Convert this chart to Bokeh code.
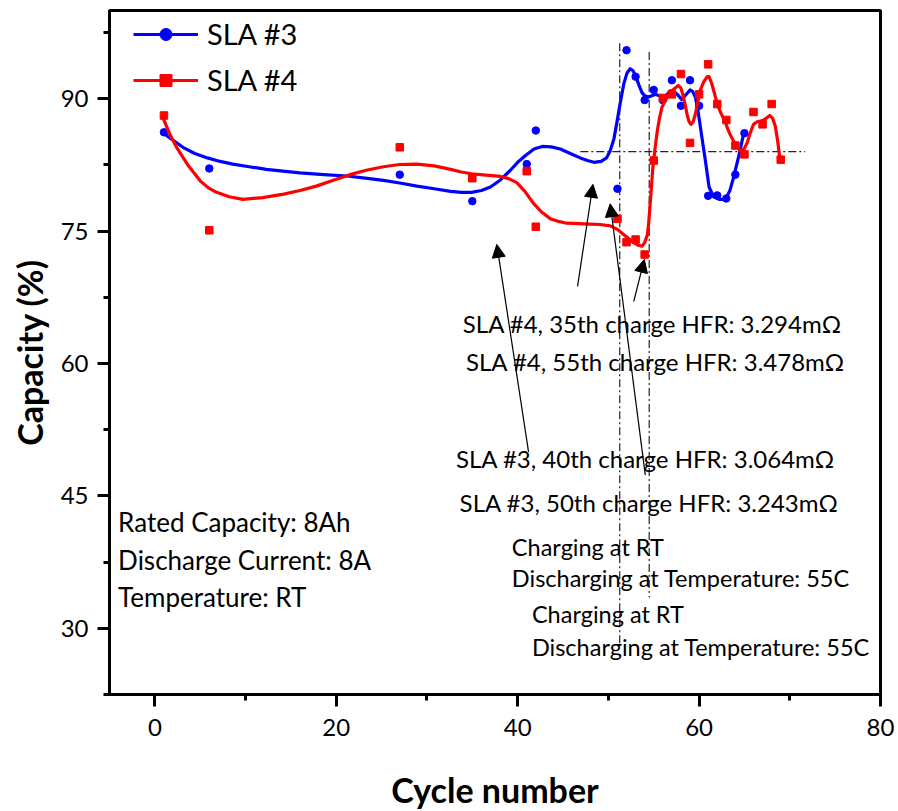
from bokeh.plotting import figure
from bokeh.models import FixedTicker, Legend, LegendItem, Arrow, NormalHead
from bokeh.core.properties import value
from bokeh.embed import file_html
from bokeh.resources import INLINE

FONT = "Lato"

# ---- measured points ----
sla3_x = [1, 6, 27, 35, 41, 42, 51, 52, 53, 54, 55, 56, 57, 58, 59, 60, 61, 62, 63, 64, 65]
sla3_y = [86.2, 82.1, 81.4, 78.4, 82.6, 86.4, 79.8, 95.5, 92.5, 89.85, 91.0, 89.85, 92.1,
          89.2, 92.1, 89.2, 79.0, 79.05, 78.7, 81.4, 86.1]

sla4_x = [1, 6, 27, 35, 41, 42, 51, 52, 53, 54, 55, 56, 57, 58, 59, 60, 61, 62, 63, 64, 65,
          66, 67, 68, 69]
sla4_y = [88.1, 75.1, 84.5, 81.0, 81.8, 75.5, 76.4, 73.75, 74.05, 72.35, 83.0, 90.1, 90.5,
          92.8, 85.0, 90.5, 93.9, 89.4, 87.6, 84.7, 83.7, 88.5, 87.1, 89.4, 83.1]

# ---- smoothed fit curves ----
fit3_x = [0.8, 2.0, 3.1, 4.4, 5.8, 7.2, 8.6, 10.4, 12.3, 14.1, 16.0, 18.6, 21.2, 23.2,
          25.2, 27.0, 28.9, 30.8, 32.6, 33.8, 34.9, 36.0, 37.0, 38.1, 39.2, 40.0, 40.9,
          41.8, 42.7, 43.7, 44.7, 45.8, 46.9, 47.7, 48.4, 49.2, 49.8, 50.2, 50.6, 50.9,
          51.3, 51.7, 52.05, 52.4, 52.7, 53.0, 53.35, 53.7, 54.0, 54.4, 54.8, 55.2, 55.6,
          56.1, 56.5, 56.8, 57.2, 57.6, 58.1, 58.5, 59.0, 59.3, 59.6, 59.85, 60.1, 60.4,
          60.7, 61.1, 61.6, 62.2, 62.9, 63.4, 63.8, 64.4, 64.9]
fit3_y = [86.2, 85.3, 84.5, 83.8, 83.3, 82.9, 82.6, 82.3, 82.0, 81.8, 81.6, 81.4, 81.25,
          81.0, 80.75, 80.45, 80.1, 79.8, 79.5, 79.4, 79.4, 79.6, 80.0, 80.8, 81.9, 82.8,
          83.6, 84.3, 84.6, 84.55, 84.3, 83.8, 83.3, 83.0, 82.8, 82.9, 83.3, 84.1, 85.4,
          87.1, 89.5, 91.7, 92.9, 93.4, 93.2, 92.6, 91.6, 90.7, 90.35, 90.2, 90.35, 90.5,
          90.35, 90.15, 90.5, 90.9, 90.8, 90.5, 89.9, 90.4, 91.0, 90.8, 90.15, 88.8,
          87.1, 85.0, 82.95, 80.0, 78.9, 78.6, 78.6, 79.6, 81.1, 83.6, 86.0]

fit4_x = [0.8, 1.6, 2.4, 3.7, 5.0, 5.9, 6.8, 8.2, 9.7, 11.9, 14.2, 16.0, 17.8, 19.6, 21.5,
          23.3, 25.2, 27.0, 28.9, 30.8, 32.6, 33.8, 34.9, 36.5, 38.1, 39.0, 39.9, 40.8,
          41.7, 42.6, 43.6, 44.5, 45.4, 46.7, 48.0, 49.1, 50.2, 51.0, 51.7, 52.3, 52.8,
          53.3, 53.7, 54.0, 54.3, 54.45, 54.6, 54.75, 54.9, 55.15, 55.4, 55.65, 55.9,
          56.2, 56.6, 57.1, 57.7, 58.0, 58.2, 58.45, 58.7, 58.9, 59.1, 59.35, 59.6, 59.85,
          60.1, 60.5, 60.9, 61.1, 61.4, 61.7, 62.0, 62.4, 62.9, 63.3, 63.8, 64.2, 64.6,
          64.95, 65.3, 65.6, 66.0, 66.4, 66.9, 67.3, 67.8, 68.1, 68.4, 68.65, 68.9]
fit4_y = [88.1, 86.1, 84.5, 82.4, 80.7, 79.9, 79.4, 78.9, 78.6, 78.8, 79.2, 79.6, 80.1,
          80.75, 81.4, 81.9, 82.3, 82.55, 82.6, 82.4, 82.0, 81.7, 81.5, 81.35, 81.2,
          80.95, 80.5, 79.5, 78.2, 77.2, 76.4, 76.1, 75.9, 75.85, 75.8, 75.75, 75.6,
          75.2, 74.6, 74.1, 73.7, 73.4, 73.3, 73.7, 74.6, 76.0, 78.0, 80.1, 82.2, 84.4,
          86.4, 87.9, 89.0, 89.7, 90.3, 91.0, 91.5, 91.2, 90.5, 89.4, 88.1, 87.4, 87.1,
          87.4, 88.3, 89.6, 90.9, 91.9, 92.5, 92.5, 91.7, 90.6, 89.4, 88.4, 87.3, 86.2,
          85.2, 84.5, 84.1, 84.3, 85.0, 86.0, 87.1, 87.4, 87.5, 87.7, 88.1, 87.8, 86.9,
          85.3, 83.3]

x_ticks = [0, 20, 40, 60, 80]
x_minor = [10, 30, 50, 70]
y_ticks = [30, 45, 60, 75, 90]
y_minor = [22.5, 37.5, 52.5, 67.5, 82.5, 97.5]

# reference lines (dash-dot): x0, y0, x1, y1
ref_x0 = [51.25, 54.5, 46.9]
ref_y0 = [96.3, 95.3, 84.0]
ref_x1 = [51.25, 54.5, 71.7]
ref_y1 = [28.0, 33.5, 84.0]

# annotation arrows: tail -> tip
arr_x0 = [41.2, 46.6, 54.07, 52.8]
arr_y0 = [50.0, 68.75, 47.35, 67.05]
arr_x1 = [37.7, 48.3, 50.2, 53.96]
arr_y1 = [73.5, 80.3, 78.1, 71.8]

hfr_notes = ["SLA #4, 35th charge HFR: 3.294m\u03a9",
             "SLA #4, 55th charge HFR: 3.478m\u03a9",
             "SLA #3, 40th charge HFR: 3.064m\u03a9",
             "SLA #3, 50th charge HFR: 3.243m\u03a9"]
hfr_x = [33.95, 34.3, 33.2, 33.6]
hfr_y = [64.58, 60.2, 49.2, 44.2]

temp_notes = ["Charging at RT",
              "Discharging at Temperature: 55C",
              "Charging at RT",
              "Discharging at Temperature: 55C"]
temp_x = [39.36, 39.36, 41.57, 41.57]
temp_y = [39.2, 35.67, 31.65, 27.9]

cond = ["Rated Capacity: 8Ah", "Discharge Current: 8A", "Temperature: RT"]
cond_x = [-4.05, -4.05, -4.05]
cond_y = [42.0, 37.7, 33.6]

p = figure(frame_width=771, frame_height=684, x_range=(-5, 80), y_range=(22.5, 100),
           output_backend="svg", toolbar_location=None,
           min_border_left=109, min_border_right=18, min_border_top=10, min_border_bottom=117)

p.xgrid.visible = False
p.ygrid.visible = False
p.outline_line_color = "black"
p.outline_line_width = 3

for ax in (p.xaxis[0], p.yaxis[0]):
    ax.axis_line_width = 3
    ax.axis_line_color = "black"
    ax.major_tick_line_width = 3
    ax.minor_tick_line_width = 3
    ax.major_tick_line_color = "black"
    ax.minor_tick_line_color = "black"
    ax.major_tick_out = 12
    ax.major_tick_in = 0
    ax.minor_tick_out = 6
    ax.minor_tick_in = 0
    ax.major_label_text_font = FONT
    ax.major_label_text_font_size = "24px"
    ax.major_label_text_color = "black"
    ax.axis_label_text_font = FONT
    ax.axis_label_text_font_style = "bold"
    ax.axis_label_text_font_size = "34px"
    ax.axis_label_text_color = "black"

p.xaxis.ticker = FixedTicker(ticks=x_ticks, minor_ticks=x_minor)
p.yaxis.ticker = FixedTicker(ticks=y_ticks, minor_ticks=y_minor)
p.xaxis.axis_label = "Cycle number"
p.yaxis.axis_label = "Capacity (%)"
p.xaxis.major_label_standoff = 12
p.xaxis.axis_label_standoff = 30
p.yaxis.major_label_standoff = 9
p.yaxis.axis_label_standoff = 8

# reference dash-dot lines
p.segment(x0=ref_x0, y0=ref_y0, x1=ref_x1, y1=ref_y1, line_color="#222222",
          line_width=1.2, line_dash="8 3 2 3")

# curves and points
l3 = p.line(fit3_x, fit3_y, line_color="#0000ff", line_width=3.2, line_join="round")
s3 = p.scatter(sla3_x, sla3_y, marker="circle", size=7.5, fill_color="#0000ff", line_color="#0000ff")
l4 = p.line(fit4_x, fit4_y, line_color="#ff0000", line_width=3.2, line_join="round")
s4 = p.scatter(sla4_x, sla4_y, marker="square", size=7.5, fill_color="#ff0000", line_color="#ff0000")

# arrows
for xa, ya, xb, yb in zip(arr_x0, arr_y0, arr_x1, arr_y1):
    p.add_layout(Arrow(end=NormalHead(size=13, fill_color="black", line_color="black", line_width=1),
                       x_start=xa, y_start=ya, x_end=xb, y_end=yb,
                       line_color="black", line_width=1.2))

# annotation texts
p.text(x=hfr_x, y=hfr_y, text=hfr_notes, text_font=value(FONT), text_font_size="24px",
       text_align="left", text_baseline="middle", text_color="black")
p.text(x=temp_x, y=temp_y, text=temp_notes, text_font=value(FONT), text_font_size="23.5px",
       text_align="left", text_baseline="middle", text_color="black")
p.text(x=cond_x, y=cond_y, text=cond, text_font=value(FONT), text_font_size="26px",
       text_align="left", text_baseline="middle", text_color="black")

legend = Legend(items=[LegendItem(label="SLA #3", renderers=[l3, s3]),
                       LegendItem(label="SLA #4", renderers=[l4, s4])],
                location=(24, 597), glyph_width=65, glyph_height=30, label_height=30,
                spacing=11, padding=0, margin=0, label_standoff=9,
                label_text_font=FONT, label_text_font_size="29px", label_text_color="black",
                border_line_alpha=0, background_fill_alpha=0)
p.add_layout(legend)

open("out.html", "w").write(file_html(p, INLINE))
